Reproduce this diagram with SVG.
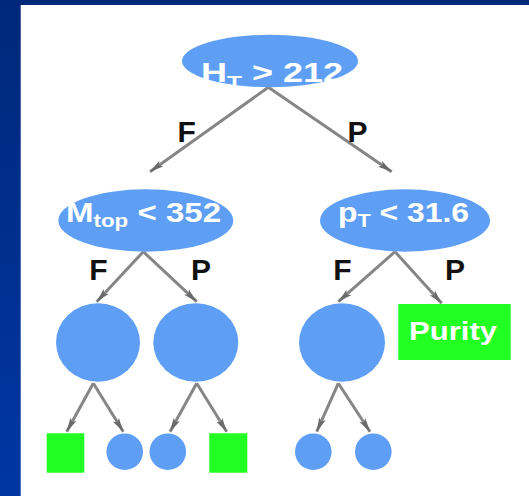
<svg xmlns="http://www.w3.org/2000/svg" width="529" height="496" viewBox="0 0 529 496">
  <defs>
    <linearGradient id="bg" x1="0" y1="0" x2="0" y2="1">
      <stop offset="0" stop-color="#00287a"/>
      <stop offset="1" stop-color="#0036a4"/>
    </linearGradient>
    <marker id="arr" markerUnits="userSpaceOnUse" viewBox="0 0 14 8" refX="14" refY="4" markerWidth="14" markerHeight="8" orient="auto">
      <path d="M0,0.5 L14,4 L0,7.5 L3,4 z" fill="#6a6a6a"/>
    </marker>
    <style>
      .node { fill: #5e9ff5; }
      .leaf { fill: #22ff22; }
      .t { font-family: "Liberation Sans", Arial, sans-serif; font-weight: bold; fill: #ffffff; }
      .lbl { font-family: "Liberation Sans", Arial, sans-serif; font-weight: bold; font-size: 30px; fill: #111111; text-anchor: middle; }
      .edge { stroke: #868686; stroke-width: 3; fill: none; marker-end: url(#arr); }
    </style>
  </defs>

  <rect x="0" y="0" width="529" height="496" fill="url(#bg)"/>
  <rect x="20.7" y="5" width="508.3" height="491" fill="#ffffff"/>

  <g id="connectors">
    <line class="edge" x1="268.3" y1="87.3" x2="150" y2="171.7"/>
    <line class="edge" x1="268.3" y1="87.3" x2="391.7" y2="171.7"/>
    <line class="edge" x1="143.3" y1="251.7" x2="96.7" y2="301.7"/>
    <line class="edge" x1="143.3" y1="251.7" x2="196.7" y2="301.7"/>
    <line class="edge" x1="395" y1="251.7" x2="338.3" y2="301.7"/>
    <line class="edge" x1="395" y1="251.7" x2="441.7" y2="303.3"/>
    <line class="edge" x1="93.3" y1="383.3" x2="66.7" y2="431.7"/>
    <line class="edge" x1="93.3" y1="383.3" x2="123.3" y2="431.7"/>
    <line class="edge" x1="196.7" y1="383.3" x2="170" y2="431.7"/>
    <line class="edge" x1="196.7" y1="383.3" x2="226.7" y2="431.7"/>
    <line class="edge" x1="338.3" y1="383.3" x2="316.7" y2="431.7"/>
    <line class="edge" x1="338.3" y1="383.3" x2="370" y2="431.7"/>
    <text class="lbl" x="186.7" y="141.5">F</text>
    <text class="lbl" x="357.5" y="141.5">P</text>
    <text class="lbl" x="98.3" y="280">F</text>
    <text class="lbl" x="201" y="280">P</text>
    <text class="lbl" x="342.3" y="280">F</text>
    <text class="lbl" x="455" y="280">P</text>
  </g>

  <g id="root">
    <ellipse class="node" cx="270" cy="61" rx="88" ry="26.3"/>
    <text class="t" x="201" y="81.5" font-size="28" textLength="142" lengthAdjust="spacingAndGlyphs">H<tspan font-size="19" dy="7.6">T</tspan><tspan dy="-7.6"> &gt; 212</tspan></text>
  </g>

  <g id="mtop">
    <ellipse class="node" cx="145.8" cy="220.5" rx="87.5" ry="31.2"/>
    <text class="t" x="66" y="221.5" font-size="28" textLength="155" lengthAdjust="spacingAndGlyphs">M<tspan font-size="19" dy="5">top</tspan><tspan dy="-5"> &lt; 352</tspan></text>
  </g>

  <g id="pt">
    <ellipse class="node" cx="405" cy="220.5" rx="85" ry="31.2"/>
    <text class="t" x="338" y="221.5" font-size="28" textLength="131" lengthAdjust="spacingAndGlyphs">p<tspan font-size="19" dy="5">T</tspan><tspan dy="-5"> &lt; 31.6</tspan></text>
  </g>

  <g id="n-ff">
    <ellipse class="node" cx="98" cy="342.5" rx="42" ry="39.2"/>
  </g>
  <g id="n-fp">
    <ellipse class="node" cx="195.8" cy="342.5" rx="42.5" ry="39.2"/>
  </g>
  <g id="n-pf">
    <ellipse class="node" cx="342" cy="342.5" rx="43" ry="39.2"/>
  </g>
  <g id="purity">
    <rect class="leaf" x="398.3" y="304" width="112.4" height="56"/>
    <text class="t" x="409" y="340" font-size="25" textLength="88" lengthAdjust="spacingAndGlyphs">Purity</text>
  </g>

  <g id="leaf-1"><rect class="leaf" x="46.7" y="433.3" width="37.6" height="39.4"/></g>
  <g id="leaf-2"><circle class="node" cx="124.7" cy="451.7" r="18.3"/></g>
  <g id="leaf-3"><circle class="node" cx="167.8" cy="451.7" r="18.3"/></g>
  <g id="leaf-4"><rect class="leaf" x="209.3" y="433.3" width="38" height="39.4"/></g>
  <g id="leaf-5"><circle class="node" cx="313.3" cy="451.7" r="18.3"/></g>
  <g id="leaf-6"><circle class="node" cx="373.3" cy="451.7" r="18.3"/></g>
</svg>
